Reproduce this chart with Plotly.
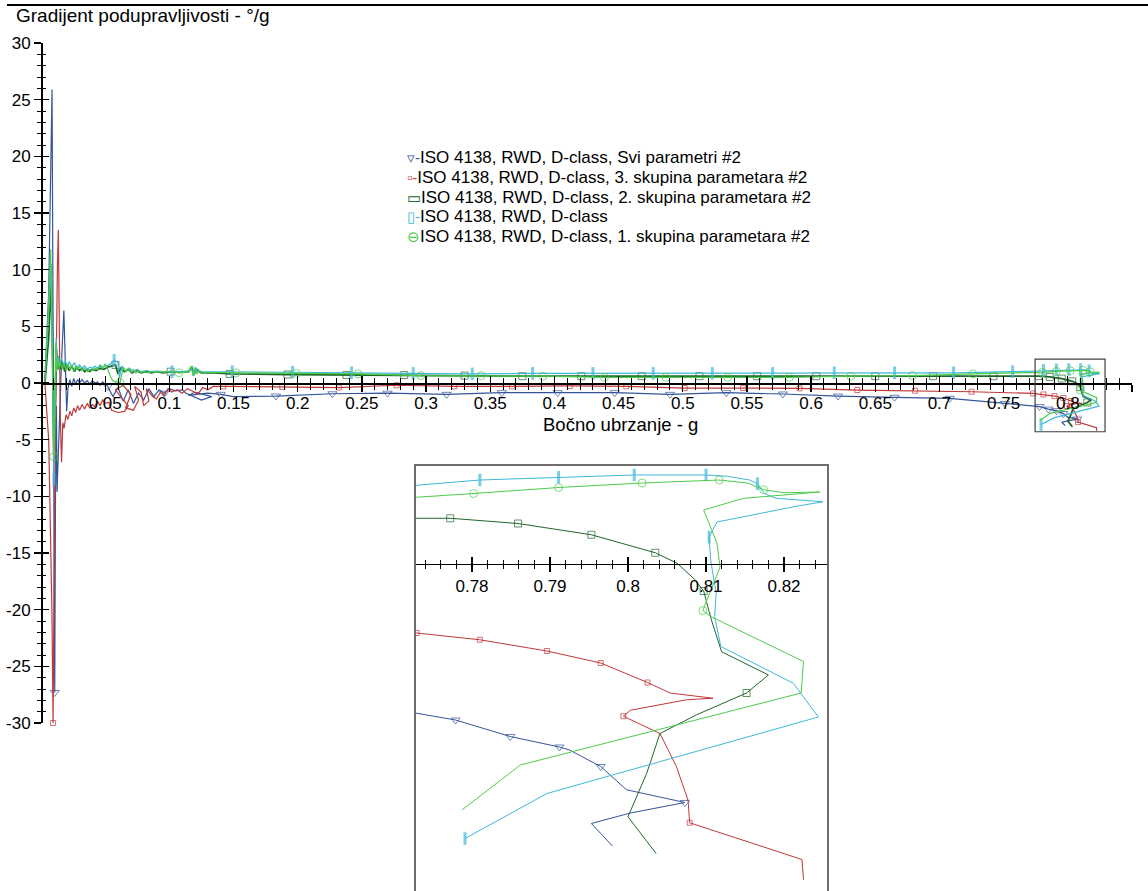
import plotly.graph_objects as go

# ---------------- data ----------------
series_names = [
    "ISO 4138, RWD, D-class, Svi parametri #2",
    "ISO 4138, RWD, D-class, 3. skupina parametara #2",
    "ISO 4138, RWD, D-class, 2. skupina parametara #2",
    "ISO 4138, RWD, D-class",
    "ISO 4138, RWD, D-class, 1. skupina parametara #2",
]

# Svi parametri #2 (blue)
svi_x = [0.0030, 0.0060, 0.0086, 0.0092, 0.0100, 0.0107, 0.0113, 0.0120, 0.0125, 0.0140,
         0.0160, 0.0178, 0.0190, 0.0200, 0.0210, 0.0225, 0.0240, 0.0255, 0.0270, 0.0285,
         0.0300, 0.0320, 0.0340, 0.0360, 0.0380, 0.0400, 0.0420, 0.0440, 0.0460, 0.0480,
         0.0520, 0.0560, 0.0600, 0.0640, 0.0680, 0.0720, 0.0760, 0.0800, 0.0840, 0.0880,
         0.0920, 0.0960, 0.1000, 0.1050, 0.1100, 0.1130, 0.1250, 0.1330, 0.1200, 0.1150,
         0.1300, 0.1400, 0.1500, 0.1830, 0.2270, 0.2700, 0.3160, 0.3590, 0.4025, 0.4470,
         0.4900, 0.5340, 0.5780, 0.6210, 0.6650, 0.7080, 0.7510,
         0.7729, 0.7779, 0.7849, 0.7912, 0.7925, 0.7965, 0.7998, 0.8073, 0.8003, 0.7953, 0.7980]
svi_y = [0.0, 8.0, 25.9, 5.0, -15.0, -27.3, -10.0, -2.0, -9.6, -4.0,
         2.0, 6.4, 1.0, -2.5, -0.5, 0.3, -0.3, 0.4, -0.1, 0.3,
         0.0, 0.3, 0.0, 0.2, -0.1, 0.2, 0.0, 0.1, -0.2, 0.1,
         -0.3, -1.2, -0.4, -1.6, -0.6, -1.8, -0.9, -1.5, -0.5, -1.2,
         -0.6, -0.9, -0.5, -0.7, -0.6, -0.9, -1.5, -1.2, -0.8, -1.1,
         -0.9, -1.0, -1.2, -1.15, -0.95, -0.9, -1.0, -0.85, -0.85, -0.85,
         -1.0, -0.85, -0.97, -1.15, -1.26, -1.35, -1.8,
         -1.99, -2.08, -2.30, -2.44, -2.48, -2.70, -3.01, -3.18, -3.32, -3.46, -3.76]
svi_marks = [0.0107, 0.0520, 0.0960, 0.1400, 0.1830, 0.2270, 0.2700, 0.3160, 0.3590, 0.4025,
             0.4470, 0.4900, 0.5340, 0.5780, 0.6210, 0.6650, 0.7080, 0.7510,
             0.7779, 0.7849, 0.7912, 0.7965, 0.8073]

# 3. skupina parametara #2 (red)
s3_x = [0.0030, 0.0060, 0.0085, 0.0094, 0.0105, 0.0118, 0.0128, 0.0135, 0.0142, 0.0150,
        0.0160, 0.0170, 0.0180, 0.0195, 0.0210, 0.0225, 0.0240, 0.0255, 0.0270, 0.0285,
        0.0300, 0.0320, 0.0340, 0.0360, 0.0380, 0.0400, 0.0420, 0.0440, 0.0460, 0.0480,
        0.0500, 0.0530, 0.0550, 0.0600, 0.0650, 0.0680, 0.0620, 0.0580, 0.0640, 0.0700,
        0.0660, 0.0720, 0.0760, 0.0730, 0.0780, 0.0800, 0.0840, 0.0820, 0.0870, 0.0900,
        0.0930, 0.0960, 0.0990, 0.1020, 0.1060, 0.1100, 0.1140, 0.1180, 0.1220, 0.1260,
        0.1300, 0.1340, 0.1420, 0.1880, 0.2320, 0.2770, 0.3220, 0.3670, 0.4120, 0.4560,
        0.5015, 0.5470, 0.5910, 0.6360, 0.6810, 0.7250,
        0.7729, 0.7810, 0.7896, 0.7965, 0.8025, 0.8054, 0.8109, 0.8075, 0.8003, 0.7994,
        0.8041, 0.8062, 0.8077, 0.8079, 0.8223, 0.8225]
s3_y = [0.0, -5.0, -20.0, -30.0, -12.0, 3.0, 10.5, 13.5, 5.0, -3.0,
        -7.0, -3.5, -4.0, -2.8, -3.2, -2.5, -2.9, -2.2, -2.6, -2.0,
        -2.4, -1.9, -2.3, -1.8, -2.2, -1.9, -2.1, -1.6, -2.0, -1.5,
        -1.8, -1.7, -2.4, -2.6, -2.5, -2.0, -1.2, -0.6, -0.2, -1.0,
        -2.2, -2.4, -1.5, -0.3, -0.8, -2.0, -1.6, -0.5, -1.2, -1.4,
        -0.8, -1.1, -0.5, -0.8, -0.6, -0.9, -0.5, -0.7, -1.0, -0.4,
        -0.6, -0.3, -0.3, -0.35, -0.4, -0.2, -0.3, -0.3, -0.26, -0.3,
        -0.45, -0.45, -0.47, -0.62, -0.68, -0.77,
        -0.92, -1.01, -1.16, -1.32, -1.58, -1.72, -1.79, -1.81, -1.95, -2.03,
        -2.26, -2.70, -3.15, -3.45, -3.94, -4.21]
s3_marks = [0.0094, 0.1420, 0.1880, 0.2320, 0.2770, 0.3220, 0.3670, 0.4120, 0.4560, 0.5015,
            0.5470, 0.5910, 0.6360, 0.6810, 0.7250,
            0.7729, 0.7810, 0.7896, 0.7965, 0.8025, 0.7994, 0.8079]

# 2. skupina parametara #2 (dark green)
s2_x = [0.0030, 0.0060, 0.0080, 0.0090, 0.0100, 0.0110, 0.0120, 0.0130, 0.0140, 0.0155,
        0.0170, 0.0185, 0.0200, 0.0220, 0.0240, 0.0260, 0.0280, 0.0300, 0.0320, 0.0340,
        0.0360, 0.0380, 0.0400, 0.0430, 0.0460, 0.0490, 0.0520, 0.0550, 0.0580, 0.0600,
        0.0620, 0.0650, 0.0680, 0.0710, 0.0740, 0.0780, 0.0820, 0.0860, 0.0900, 0.0950,
        0.1010, 0.1080, 0.1150, 0.1175, 0.1190, 0.1210, 0.1250, 0.1350, 0.1470, 0.1920,
        0.2380, 0.2830, 0.3300, 0.3750, 0.4210, 0.4680, 0.5130, 0.5580, 0.6040, 0.6500,
        0.6950, 0.7420,
        0.7729, 0.7772, 0.7859, 0.7953, 0.8035, 0.8063, 0.8086, 0.8097, 0.8107, 0.8120,
        0.8180, 0.8152, 0.8088, 0.8041, 0.8024, 0.8000, 0.8036]
s2_y = [0.0, 4.0, 9.0, 3.0, -7.0, -1.5, 3.0, 1.2, 2.0, 1.2,
        1.8, 1.0, 1.6, 1.1, 1.5, 1.0, 1.4, 1.1, 1.3, 1.0,
        1.2, 1.0, 1.2, 1.1, 1.3, 1.2, 1.4, 1.5, 1.6, 0.8,
        1.3, 1.0, 1.2, 0.9, 1.1, 0.9, 1.0, 0.9, 1.0, 0.9,
        1.0, 0.95, 1.0, 1.4, 0.7, 1.2, 0.9, 0.9, 0.8, 0.75,
        0.7, 0.7, 0.65, 0.6, 0.6, 0.6, 0.6, 0.6, 0.6, 0.6,
        0.6, 0.6,
        0.61, 0.61, 0.54, 0.39, 0.15, 0.01, -0.21, -0.36, -0.75, -1.17,
        -1.48, -1.72, -2.01, -2.26, -2.79, -3.37, -3.86]
s2_marks = [0.0580, 0.1010, 0.1470, 0.1920, 0.2380, 0.2830, 0.3300, 0.3750, 0.4210, 0.4680,
            0.5130, 0.5580, 0.6040, 0.6500, 0.6950, 0.7420,
            0.7772, 0.7859, 0.7953, 0.8035, 0.8097, 0.8152]

# D-class (cyan)
dc_x = [0.0030, 0.0060, 0.0080, 0.0090, 0.0100, 0.0110, 0.0118, 0.0126, 0.0135, 0.0145,
        0.0160, 0.0175, 0.0190, 0.0205, 0.0220, 0.0240, 0.0260, 0.0280, 0.0300, 0.0320,
        0.0340, 0.0360, 0.0380, 0.0400, 0.0420, 0.0440, 0.0460, 0.0480, 0.0500, 0.0530,
        0.0570, 0.0600, 0.0610, 0.0630, 0.0660, 0.0690, 0.0720, 0.0750, 0.0780, 0.0820,
        0.0860, 0.0900, 0.0950, 0.1020, 0.1100, 0.1160, 0.1180, 0.1195, 0.1210, 0.1240,
        0.1300, 0.1400, 0.1490, 0.1960, 0.2420, 0.2900, 0.3360, 0.3830, 0.4300, 0.4770,
        0.5230, 0.5700, 0.6180, 0.6650, 0.7110, 0.7570,
        0.7729, 0.7810, 0.7911, 0.8008, 0.8100, 0.8127, 0.8156, 0.8166, 0.8175, 0.8190,
        0.8250, 0.8211, 0.8114, 0.8104, 0.8106, 0.8113, 0.8111, 0.8119, 0.8212, 0.8244,
        0.7896, 0.7791]
dc_y = [0.5, 7.0, 10.5, 2.0, -8.5, -3.0, 4.0, 1.5, 2.4, 1.6,
        2.2, 1.5, 2.0, 1.4, 1.9, 1.4, 1.8, 1.3, 1.6, 1.3,
        1.5, 1.2, 1.4, 1.3, 1.5, 1.3, 1.6, 1.4, 1.5, 1.6,
        2.0, 1.8, 0.4, 1.5, 1.1, 1.3, 1.0, 1.2, 1.0, 1.1,
        1.0, 1.05, 1.0, 1.0, 1.0, 1.1, 1.5, 0.7, 1.3, 1.0,
        1.0, 1.0, 1.0, 0.95, 0.9, 0.85, 0.8, 0.85, 0.85, 0.85,
        0.85, 0.85, 0.9, 0.9, 0.9, 1.0,
        1.05, 1.12, 1.156, 1.187, 1.187, 1.17, 1.12, 1.07, 0.94, 0.876,
        0.83, 0.76, 0.56, 0.36, 0.05, -0.39, -0.70, -1.10, -1.59, -2.04,
        -3.06, -3.66]
dc_marks = [0.0100, 0.0570, 0.1020, 0.1490, 0.1960, 0.2420, 0.2900, 0.3360, 0.3830, 0.4300,
            0.4770, 0.5230, 0.5700, 0.6180, 0.6650, 0.7110, 0.7570,
            0.7810, 0.7911, 0.8008, 0.8100, 0.8166, 0.8104, 0.7791]

# 1. skupina parametara #2 (light green)
s1_x = [0.0030, 0.0055, 0.0075, 0.0085, 0.0095, 0.0100, 0.0108, 0.0115, 0.0122, 0.0130,
        0.0140, 0.0150, 0.0165, 0.0180, 0.0195, 0.0210, 0.0225, 0.0240, 0.0255, 0.0270,
        0.0285, 0.0300, 0.0320, 0.0340, 0.0360, 0.0380, 0.0400, 0.0420, 0.0440, 0.0460,
        0.0480, 0.0500, 0.0520, 0.0540, 0.0560, 0.0616, 0.0640, 0.0660, 0.0680, 0.0700,
        0.0720, 0.0740, 0.0760, 0.0780, 0.0800, 0.0830, 0.0860, 0.0890, 0.0920, 0.0950,
        0.0980, 0.1010, 0.1076, 0.1120, 0.1150, 0.1170, 0.1185, 0.1200, 0.1215, 0.1235,
        0.1260, 0.1300, 0.1400, 0.1520, 0.1990, 0.2470, 0.2960, 0.3430, 0.3910, 0.4390,
        0.4870, 0.5350, 0.5830, 0.6310, 0.6790, 0.7260,
        0.7729, 0.7802, 0.7911, 0.8018, 0.8117, 0.8153, 0.8174, 0.8200, 0.8246, 0.8148,
        0.8097, 0.8114, 0.8118, 0.8096, 0.8106, 0.8225, 0.8222, 0.7862, 0.7787]
s1_y = [0.0, 5.5, 11.8, 6.0, -3.0, -6.5, -2.0, 3.5, 1.0, 2.2,
        1.3, 1.9, 1.2, 1.8, 1.1, 1.7, 1.2, 1.6, 1.0, 1.5,
        1.2, 1.4, 1.1, 1.3, 1.0, 1.2, 1.1, 1.3, 1.2, 1.5,
        1.3, 1.7, 1.2, 0.6, 0.2, 0.0, 1.4, 1.0, 1.3, 0.9,
        1.2, 0.9, 1.1, 0.9, 1.0, 0.9, 1.0, 0.95, 1.0, 0.95,
        1.0, 1.05, 0.9, 0.95, 1.0, 1.5, 0.6, 1.4, 0.8, 1.1,
        0.9, 0.95, 0.9, 0.9, 0.85, 0.8, 0.65, 0.65, 0.6, 0.5,
        0.5, 0.5, 0.5, 0.6, 0.65, 0.8,
        0.89, 0.94, 1.02, 1.08, 1.12, 1.08, 0.99, 0.95, 0.96, 0.876,
        0.72, 0.28, -0.04, -0.62, -0.70, -1.30, -1.72, -2.68, -3.28]
s1_marks = [0.0100, 0.0616, 0.1076, 0.1520, 0.1990, 0.2470, 0.2960, 0.3430, 0.3910, 0.4390,
            0.4870, 0.5350, 0.5830, 0.6310, 0.6790, 0.7260,
            0.7802, 0.7911, 0.8018, 0.8117, 0.8174, 0.8096]

x_tick_vals = [0.05, 0.1, 0.15, 0.2, 0.25, 0.3, 0.35, 0.4, 0.45, 0.5, 0.55, 0.6, 0.65, 0.7, 0.75, 0.8, 0.85]
x_tick_text = ["0.05", "0.1", "0.15", "0.2", "0.25", "0.3", "0.35", "0.4", "0.45", "0.5",
               "0.55", "0.6", "0.65", "0.7", "0.75", "0.8", "0.85"]
y_tick_vals = [-30, -25, -20, -15, -10, -5, 0, 5, 10, 15, 20, 25, 30]
y_tick_text = ["-30", "-25", "-20", "-15", "-10", "-5", "0", "5", "10", "15", "20", "25", "30"]
inset_tick_vals = [0.78, 0.79, 0.8, 0.81, 0.82]
inset_tick_text = ["0.78", "0.79", "0.8", "0.81", "0.82"]

title_text = "Gradijent podupravljivosti - °/g"
xaxis_title_text = "Bočno ubrzanje - g"

# ---------------- layout geometry ----------------
W, H = 1148, 891
L, R, T, B = 41, 16, 43, 0
PW = W - L - R
PH = H - T - B


def pxx(px):
    return (px - L) / PW


def pyy(py):
    return (H - B - py) / PH


main_y_dom = [pyy(723), 1.0]
zero_pos = pyy(383)
inset_x_dom = [pxx(415), pxx(828)]
inset_y_dom = [0.0, pyy(465)]
inset_axis_pos = pyy(564)
inset_x_range = [0.77269, 0.82564]
inset_y_range = [-4.36, 1.32]

TICK_FONT = dict(family="Liberation Sans, Arial, sans-serif", size=17, color="black")
TEXT_FONT = "Liberation Sans, Arial, sans-serif"

styles = [
    dict(color="#34559a", symbol="triangle-down-open", size=8, lw=1.2),
    dict(color="#c03838", symbol="square-open", size=5, lw=1.2),
    dict(color="#21662a", symbol="square-open", size=7, lw=1.8),
    dict(color="#40b8d8", symbol="line-ns-open", size=9, lw=1.2),
    dict(color="#4ccc4c", symbol="circle-open", size=8, lw=1.2),
]
legend_syms = ["▿-", "▫-", "▭", "▯-", "⊖"]

series = [
    (svi_x, svi_y, svi_marks),
    (s3_x, s3_y, s3_marks),
    (s2_x, s2_y, s2_marks),
    (dc_x, dc_y, dc_marks),
    (s1_x, s1_y, s1_marks),
]

fig = go.Figure()

for (xs, ys, marks), st, name in zip(series, styles, series_names):
    assert len(xs) == len(ys), name
    sizes = [st["size"] if x in marks else 0 for x in xs]
    mline = 3 if st["symbol"].startswith("line") else 1
    for xa, ya, lw, clip in (("x", "y", st["lw"], False), ("x2", "y2", 1.0, True)):
        fig.add_trace(go.Scatter(
            x=xs, y=ys, name=name, xaxis=xa, yaxis=ya,
            mode="lines+markers", cliponaxis=clip, showlegend=False,
            line=dict(color=st["color"], width=lw),
            marker=dict(symbol=st["symbol"], size=sizes, color=st["color"],
                        line=dict(color=st["color"], width=mline)),
            hoverinfo="skip",
        ))

# helper (empty) traces so the overlay tick axes get drawn
fig.add_trace(go.Scatter(x=[], y=[], xaxis="x3", yaxis="y", showlegend=False))
fig.add_trace(go.Scatter(x=[], y=[], xaxis="x", yaxis="y3", showlegend=False))
fig.add_trace(go.Scatter(x=[], y=[], xaxis="x4", yaxis="y2", showlegend=False))

common = dict(showgrid=False, zeroline=False, fixedrange=True, automargin=False)

fig.update_layout(
    width=W, height=H,
    margin=dict(l=L, r=R, t=T, b=B, pad=0, autoexpand=False),
    paper_bgcolor="white", plot_bgcolor="rgba(0,0,0,0)",
    showlegend=False,
    xaxis=dict(domain=[0, 1], range=[0, 0.85], anchor="free", position=zero_pos,
               showline=True, linecolor="black", linewidth=1.5,
               ticks="outside", ticklen=7, tickwidth=1.3, tickcolor="black",
               tickmode="array", tickvals=x_tick_vals, ticktext=x_tick_text, tickfont=TICK_FONT,
               ticklabelstandoff=-3,
               minor=dict(tick0=0, dtick=0.01, ticks="outside", ticklen=5, tickwidth=1, tickcolor="black"),
               **common),
    xaxis3=dict(overlaying="x", range=[0, 0.85], anchor="free", position=zero_pos,
                showline=False, ticks="inside", ticklen=7, tickwidth=1.3, tickcolor="black",
                tickmode="array", tickvals=x_tick_vals, showticklabels=False,
                minor=dict(tick0=0, dtick=0.01, ticks="inside", ticklen=5, tickwidth=1, tickcolor="black"),
                **common),
    yaxis=dict(domain=main_y_dom, range=[-30, 30], anchor="free", position=0,
               showline=True, linecolor="black", linewidth=1.5,
               ticks="outside", ticklen=7, tickwidth=1.3, tickcolor="black",
               tickmode="array", tickvals=y_tick_vals, ticktext=y_tick_text, tickfont=TICK_FONT,
               minor=dict(tick0=0, dtick=1, ticks="outside", ticklen=4, tickwidth=1, tickcolor="black"),
               **common),
    yaxis3=dict(overlaying="y", range=[-30, 30], anchor="free", position=0,
                showline=False, ticks="inside", ticklen=7, tickwidth=1.3, tickcolor="black",
                tickmode="array", tickvals=y_tick_vals, showticklabels=False,
                minor=dict(tick0=0, dtick=1, ticks="inside", ticklen=4, tickwidth=1, tickcolor="black"),
                **common),
    xaxis2=dict(domain=inset_x_dom, range=inset_x_range, anchor="free", position=inset_axis_pos,
                showline=True, linecolor="black", linewidth=1.2,
                ticks="outside", ticklen=7, tickwidth=1.2, tickcolor="black",
                tickmode="array", tickvals=inset_tick_vals, ticktext=inset_tick_text, tickfont=TICK_FONT,
                ticklabelstandoff=-1,
                minor=dict(tick0=0.78, dtick=0.002, ticks="outside", ticklen=4, tickwidth=1, tickcolor="black"),
                **common),
    xaxis4=dict(overlaying="x2", range=inset_x_range, anchor="free", position=inset_axis_pos,
                showline=False, ticks="inside", ticklen=7, tickwidth=1.2, tickcolor="black",
                tickmode="array", tickvals=inset_tick_vals, showticklabels=False,
                minor=dict(tick0=0.78, dtick=0.002, ticks="inside", ticklen=4, tickwidth=1, tickcolor="black"),
                **common),
    yaxis2=dict(domain=inset_y_dom, range=inset_y_range, anchor="free", position=inset_x_dom[0],
                visible=False, **common),
)

shapes = [
    # page header rule
    dict(type="line", xref="paper", yref="paper", x0=pxx(7), x1=pxx(W), y0=pyy(5), y1=pyy(5),
         line=dict(color="black", width=2)),
    # zoom box in the main plot
    dict(type="rect", xref="x", yref="y", x0=0.7745, x1=0.829, y0=-4.3, y1=2.1,
         line=dict(color="#404040", width=1.2)),
    # inset frame (bottom edge runs off the page, as in the source)
    dict(type="rect", xref="x2 domain", yref="y2 domain", x0=0, x1=1, y0=-0.03, y1=1,
         line=dict(color="#6e6e6e", width=2)),
]

annotations = [
    dict(text=title_text, xref="paper", yref="paper", x=pxx(14), y=pyy(15),
         xanchor="left", yanchor="middle", showarrow=False,
         font=dict(family=TEXT_FONT, size=19, color="black")),
    dict(text=xaxis_title_text, xref="paper", yref="paper", x=pxx(620), y=pyy(424),
         xanchor="center", yanchor="middle", showarrow=False,
         font=dict(family=TEXT_FONT, size=18.5, color="black")),
]
legend_rows_py = [158, 177.5, 197, 216.5, 236]
for name, st, sym, py in zip(series_names, styles, legend_syms, legend_rows_py):
    annotations.append(dict(
        text=f"<span style='color:{st['color']};font-size:15px'>{sym}</span>{name}",
        xref="paper", yref="paper", x=pxx(405), y=pyy(py),
        xanchor="left", yanchor="middle", showarrow=False,
        font=dict(family=TEXT_FONT, size=17, color="black")))

fig.update_layout(shapes=shapes, annotations=annotations)

fig.write_html("out.html", config={"displayModeBar": False, "staticPlot": True},
               post_script="document.body.style.margin='0px';document.body.style.overflow='hidden';")
